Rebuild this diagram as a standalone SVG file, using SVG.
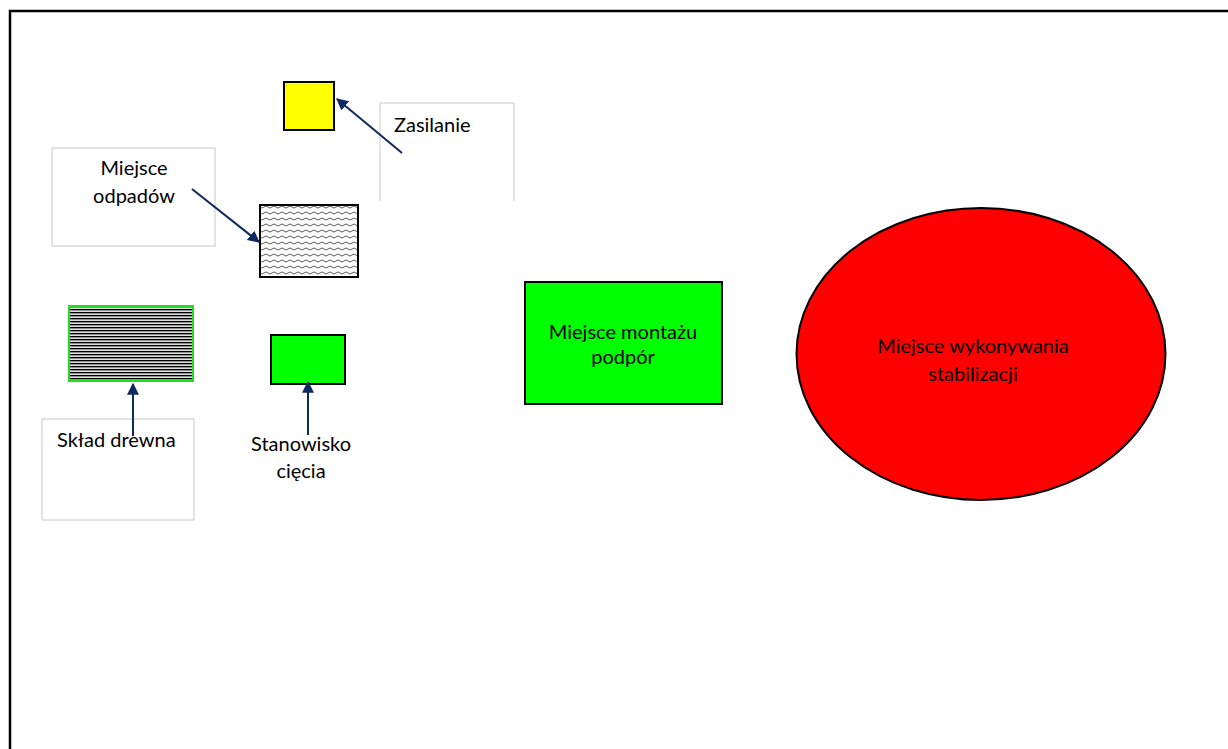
<svg xmlns="http://www.w3.org/2000/svg" width="1228" height="749" viewBox="0 0 1228 749">
<style>
.t{font-family:Lato,"Open Sans","Liberation Sans",sans-serif;font-size:20px;fill:#000}
.lbl{fill:#fff;stroke:#c8c8c8;stroke-width:1}
.c{stroke:#0f2a5e;stroke-width:2;fill:none;marker-end:url(#ah)}
</style>
<defs>
<marker id="ah" viewBox="0 0 10 10" refX="9" refY="5" markerWidth="6" markerHeight="6" orient="auto" markerUnits="strokeWidth">
<path d="M0,0 L10,5 L0,10 z" fill="#0f2a5e"/>
</marker>
<pattern id="wave" width="8" height="6" patternUnits="userSpaceOnUse">
<rect width="8" height="6" fill="#fff"/>
<path d="M0,3 Q2,1 4,3 T8,3" stroke="#333" stroke-width="0.8" fill="none"/>
</pattern>
<pattern id="stripes" width="4" height="3" patternUnits="userSpaceOnUse">
<rect width="4" height="3" fill="#e8e8e8"/>
<rect y="0" width="4" height="1.2" fill="#000"/>
<rect y="1.2" width="4" height="0.9" fill="#888"/>
</pattern>
</defs>
<rect width="1228" height="749" fill="#fff"/>
<path d="M10,749 V11 H1228" stroke="#000" stroke-width="2.5" fill="none"/>

<g id="zasilanie-src">
<rect x="284" y="82" width="50" height="48" fill="#ffff00" stroke="#000" stroke-width="2"/>
</g>
<g id="zasilanie-label">
<path class="lbl" d="M380,201 V103 H514 V201"/>
<text class="t" x="394" y="132">Zasilanie</text>
</g>
<g id="odpady-label">
<rect class="lbl" x="52" y="148" width="163" height="98"/>
<text class="t" x="134" y="175" text-anchor="middle">Miejsce</text>
<text class="t" x="134" y="203" text-anchor="middle">odpadów</text>
</g>
<g id="odpady">
<rect x="260" y="205" width="98" height="72" fill="url(#wave)" stroke="#000" stroke-width="2"/>
</g>
<g id="sklad">
<rect x="69" y="306" width="124" height="75" fill="url(#stripes)" stroke="#22dd22" stroke-width="2"/>
</g>
<g id="sklad-label">
<rect class="lbl" x="42" y="419" width="152" height="101"/>
<text class="t" x="57" y="447">Skład drewna</text>
</g>
<g id="stanowisko">
<rect x="271" y="335" width="74" height="49" fill="#00ff00" stroke="#000" stroke-width="2"/>
</g>
<g id="stanowisko-label">
<text class="t" x="301" y="451" text-anchor="middle">Stanowisko</text>
<text class="t" x="301" y="478" text-anchor="middle">cięcia</text>
</g>
<g id="montaz">
<rect x="525" y="282" width="197" height="122" fill="#00ff00" stroke="#000" stroke-width="2"/>
<text class="t" x="623" y="339" text-anchor="middle">Miejsce montażu</text>
<text class="t" x="623" y="364" text-anchor="middle">podpór</text>
</g>
<g id="stabilizacja">
<ellipse cx="981" cy="354" rx="184.5" ry="146" fill="#ff0000" stroke="#000" stroke-width="2"/>
<text class="t" x="973" y="353" text-anchor="middle">Miejsce wykonywania</text>
<text class="t" x="973" y="381" text-anchor="middle">stabilizacji</text>
</g>
<g id="connectors">
<path class="c" d="M402,153 L337,99"/>
<path class="c" d="M192,189 L259,242"/>
<path class="c" d="M133,436 V384"/>
<path class="c" d="M308,435 V382"/>
</g>
</svg>
